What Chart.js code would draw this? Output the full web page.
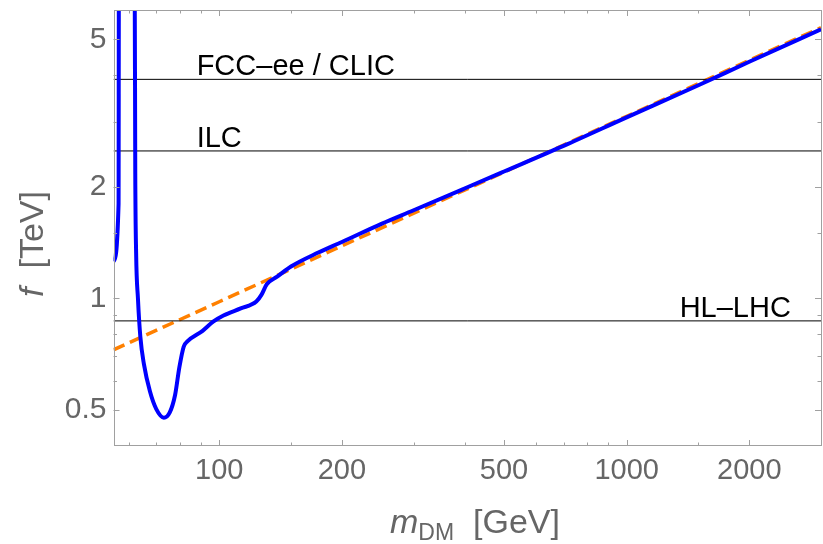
<!DOCTYPE html>
<html>
<head>
<meta charset="utf-8">
<script src="https://cdn.jsdelivr.net/npm/chart.js@4.4.1/dist/chart.umd.min.js"></script>
<style>
  html, body { margin: 0; padding: 0; background: #fff; }
  #wrap { width: 823px; height: 544px; }
</style>
</head>
<body>
<div id="wrap"><canvas id="chart" width="823" height="544"></canvas></div>
<script>
// m_DM [GeV] against f [TeV]
const massBlue = [55, 56.6, 56.7, 62.0, 62.2, 62.5, 63.15, 64.0, 65.3, 67.6,
  70.0, 73.1, 75.6, 77.9, 79.8, 81.8, 83.5, 91.0, 96.6, 102.4,
  112.9, 123.3, 127.0, 130.8, 138.7, 150, 175, 200, 250, 300,
  400, 500, 700, 1000, 1500, 2000, 3000];
const fBlue = [1.26, 1.8, 7, 7, 2.18, 1.33, 1.0, 0.79, 0.666, 0.561,
  0.504, 0.477, 0.493, 0.549, 0.652, 0.742, 0.766, 0.818, 0.866, 0.90,
  0.94, 0.981, 1.024, 1.092, 1.145, 1.22, 1.33, 1.42, 1.59, 1.73,
  1.98, 2.2, 2.58, 3.08, 3.76, 4.35, 5.32];

// dashed fit
const massOrange = [55, 100, 1000, 3000];
const fOrange = [0.727, 0.98, 3.1, 5.38];

// collider reach lines
const reachNames = ["FCC\u2013ee / CLIC", "ILC", "HL\u2013LHC"];
const reachF = [3.9, 2.5, 0.87];
const reachLabelMass = [88, 88, 2530];

const xMajor = [100, 200, 500, 1000, 2000];
const xMinor = [60, 70, 80, 90, 150, 300, 400, 600, 700, 800, 900, 1500];
const yMajor = [0.5, 1, 2, 5];
const yMinor = [0.6, 0.7, 0.8, 0.9, 1.5, 3, 4];

const xRange = [55, 3000];
const yRange = [0.4, 6];

const FONT = "'Liberation Sans', Arial, sans-serif";

const toPts = (xs, ys) => xs.map((x, i) => ({x: x, y: ys[i]}));

const datasets = [{
  data: toPts(massBlue, fBlue),
  borderColor: "#0000ff",
  borderWidth: 4,
  pointRadius: 0,
  cubicInterpolationMode: "monotone",
  clip: 0
}];
reachF.forEach(v => {
  datasets.push({
    data: toPts(xRange, [v, v]),
    borderColor: "#000",
    borderWidth: 1,
    pointRadius: 0,
    clip: 0
  });
});
datasets.push({
  data: toPts(massOrange, fOrange),
  borderColor: "#ff8000",
  borderWidth: 3.5,
  borderDash: [12, 6],
  pointRadius: 0,
  clip: 0
});

function noPad(s) {
  s.paddingTop = 0; s.paddingBottom = 0;
  s.paddingLeft = 0; s.paddingRight = 0;
}

const decor = {
  id: "decor",
  afterDraw(chart) {
    const ctx = chart.ctx;
    const a = chart.chartArea;
    const xs = chart.scales.x, ys = chart.scales.y;
    ctx.save();

    // frame
    ctx.strokeStyle = "#a0a0a0";
    ctx.lineWidth = 1;
    ctx.strokeRect(Math.round(a.left) + 0.5, Math.round(a.top) + 0.5,
      Math.round(a.right - a.left) - 1, Math.round(a.bottom - a.top) - 1);

    // inward ticks on all four sides
    const tick = (vals, len) => {
      vals.forEach(v => {
        const px = Math.round(xs.getPixelForValue(v)) + 0.5;
        ctx.beginPath();
        ctx.moveTo(px, a.bottom); ctx.lineTo(px, a.bottom - len);
        ctx.moveTo(px, a.top); ctx.lineTo(px, a.top + len);
        ctx.stroke();
      });
    };
    const ytick = (vals, len) => {
      vals.forEach(v => {
        const py = Math.round(ys.getPixelForValue(v)) + 0.5;
        ctx.beginPath();
        ctx.moveTo(a.left, py); ctx.lineTo(a.left + len, py);
        ctx.moveTo(a.right, py); ctx.lineTo(a.right - len, py);
        ctx.stroke();
      });
    };
    tick(xMajor, 6); tick(xMinor, 3.5);
    ytick(yMajor, 6); ytick(yMinor, 3.5);

    // reach labels
    ctx.fillStyle = "#000";
    ctx.font = "29px " + FONT;
    ctx.textBaseline = "alphabetic";
    reachNames.forEach((name, i) => {
      ctx.textAlign = i === 2 ? "right" : "left";
      ctx.fillText(name, xs.getPixelForValue(reachLabelMass[i]), ys.getPixelForValue(reachF[i]) - 4);
    });

    // axis titles
    ctx.fillStyle = "#666";
    ctx.textAlign = "left";
    ctx.textBaseline = "alphabetic";
    const itl = "italic 34px " + FONT, reg = "34px " + FONT, sub = "23px " + FONT;

    // y title
    ctx.save();
    ctx.translate(43, 244);
    ctx.rotate(-Math.PI / 2);
    ctx.font = itl; const wf = ctx.measureText("f").width;
    ctx.font = reg; const wr = ctx.measureText("  [TeV]").width;
    let x0 = -(wf + wr) / 2;
    ctx.font = itl; ctx.fillText("f", x0, 0);
    ctx.font = reg; ctx.fillText("  [TeV]", x0 + wf, 0);
    ctx.restore();

    // x title
    ctx.font = itl; const wm = ctx.measureText("m").width;
    ctx.font = sub; const wd = ctx.measureText("DM").width;
    ctx.font = reg; const wg = ctx.measureText("  [GeV]").width;
    x0 = 475 - (wm + wd + wg) / 2;
    const by = 533;
    ctx.font = itl; ctx.fillText("m", x0, by);
    ctx.font = sub; ctx.fillText("DM", x0 + wm, by + 7);
    ctx.font = reg; ctx.fillText("  [GeV]", x0 + wm + wd, by);

    ctx.restore();
  }
};

new Chart(document.getElementById("chart"), {
  type: "line",
  data: { datasets: datasets },
  options: {
    responsive: false,
    animation: false,
    events: [],
    layout: { padding: { top: 10, right: 2, left: 0, bottom: 0 } },
    plugins: { legend: { display: false }, tooltip: { enabled: false } },
    scales: {
      x: {
        type: "logarithmic",
        min: xRange[0], max: xRange[1],
        grid: { display: false, drawTicks: false },
        border: { display: false },
        afterBuildTicks: s => { s.ticks = xMajor.map(v => ({value: v})); },
        afterFit: s => { s.height = 98; noPad(s); },
        ticks: {
          padding: 8,
          maxRotation: 0,
          autoSkip: false,
          color: "#666",
          font: { family: FONT, size: 29 },
          callback: v => String(v)
        }
      },
      y: {
        type: "logarithmic",
        min: yRange[0], max: yRange[1],
        grid: { display: false, drawTicks: false },
        border: { display: false },
        afterBuildTicks: s => { s.ticks = yMajor.map(v => ({value: v})); },
        afterFit: s => { s.width = 113.5; noPad(s); },
        ticks: {
          padding: 7,
          autoSkip: false,
          color: "#666",
          font: { family: FONT, size: 30 },
          callback: v => String(v)
        }
      }
    }
  },
  plugins: [decor]
});
</script>
</body>
</html>
